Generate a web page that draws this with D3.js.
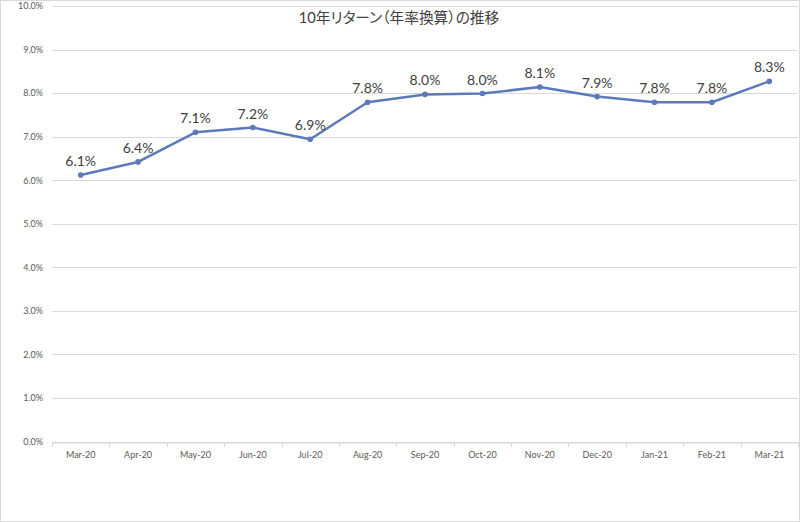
<!DOCTYPE html>
<html><head><meta charset="utf-8">
<script src="https://cdn.jsdelivr.net/npm/d3@7"></script>
<style>
html,body{margin:0;padding:0;background:#fff;}
svg{display:block;font-family:Lato,"Noto Sans CJK JP",sans-serif;}
</style></head><body>
<svg id="c" width="800" height="522"></svg>
<script>
const categories = ["Mar-20","Apr-20","May-20","Jun-20","Jul-20","Aug-20","Sep-20","Oct-20","Nov-20","Dec-20","Jan-21","Feb-21","Mar-21"];
const values = [6.12, 6.42, 7.10, 7.21, 6.94, 7.79, 7.97, 7.99, 8.14, 7.92, 7.79, 7.79, 8.27];
const yTicks = [0,1,2,3,4,5,6,7,8,9,10];
const title = "10年リターン（年率換算）の推移";

const svg = d3.select("#c");
const W = 800, H = 522;
const m = {left:52, right:2, top:6, bottom:80.5};

svg.append("rect").attr("x",0.5).attr("y",0.5).attr("width",W-1).attr("height",H-1)
  .attr("fill","#fff").attr("stroke","#d9d9d9");

const x = d3.scaleBand().domain(categories).range([m.left, W-m.right]).padding(0);
const y = d3.scaleLinear().domain([0,10]).range([H-m.bottom, m.top]);

// gridlines
svg.append("g").selectAll("line").data(yTicks).join("line")
  .attr("x1", m.left).attr("x2", W-m.right)
  .attr("y1", d=>Math.round(y(d))+0.5).attr("y2", d=>Math.round(y(d))+0.5)
  .attr("stroke","#d9d9d9").attr("stroke-width",1);

// y axis labels
const yAxis = d3.axisLeft(y).tickValues(yTicks).tickFormat(d=>d.toFixed(1)+"%").tickSize(0).tickPadding(9);
const gy = svg.append("g").attr("transform",`translate(${m.left},0)`).call(yAxis);
gy.select(".domain").remove();
gy.selectAll("text").attr("fill","#595959").style("font-size","9px").style("font-family","Lato,sans-serif");

// x axis
const xAxis = d3.axisBottom(x).tickSizeOuter(0).tickSize(0).tickPadding(9);
const gx = svg.append("g").attr("transform",`translate(0,${Math.round(y(0))+0.5})`).call(xAxis);
gx.select(".domain").attr("stroke","#d9d9d9");
gx.selectAll("text").attr("fill","#595959").style("font-size","9px").style("font-family","Lato,sans-serif");
// category boundary ticks
svg.append("g").selectAll("line").data(categories.concat(["__end"])).join("line")
  .attr("x1", (d,i)=> Math.round(m.left + i*x.bandwidth())+0.5)
  .attr("x2", (d,i)=> Math.round(m.left + i*x.bandwidth())+0.5)
  .attr("y1", Math.round(y(0))).attr("y2", Math.round(y(0))+5)
  .attr("stroke","#d9d9d9");

// line
const cx = d => x(d) + x.bandwidth()/2;
const line = d3.line().x((d,i)=>cx(categories[i])).y(d=>y(d));
svg.append("path").datum(values).attr("d", line)
  .attr("fill","none").attr("stroke","#5b79bb").attr("stroke-width",2.5).attr("stroke-linejoin","round");
svg.append("g").selectAll("circle").data(values).join("circle")
  .attr("cx",(d,i)=>cx(categories[i])).attr("cy",d=>y(d)).attr("r",2.8).attr("fill","#5b79bb");

// data labels
svg.append("g").selectAll("text").data(values).join("text")
  .attr("x",(d,i)=>cx(categories[i])).attr("y",d=>y(d)-9)
  .attr("text-anchor","middle").attr("fill","#404040")
  .style("font-size","14px").style("font-family","Lato,sans-serif")
  .text(d=>d.toFixed(1)+"%");

// title
svg.append("text").attr("x",399).attr("y",23).attr("text-anchor","middle")
  .attr("fill","#404040").style("font-size","14.7px")
  .style("font-family",'Lato,"Noto Sans CJK JP",sans-serif')
  .style("font-feature-settings",'"palt"')
  .text(title);
</script>
</body></html>
